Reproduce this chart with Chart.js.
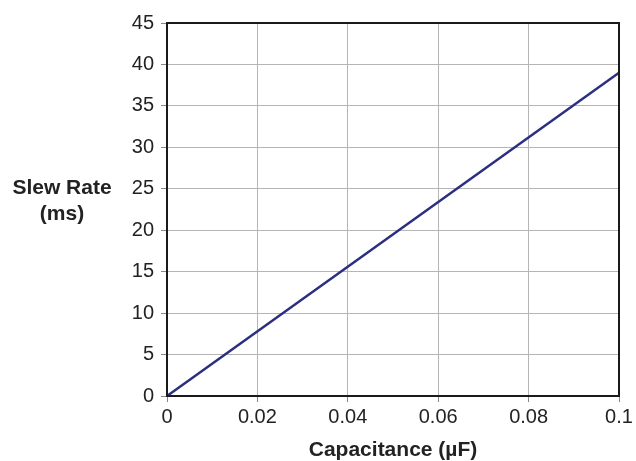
<!DOCTYPE html>
<html>
<head>
<meta charset="utf-8">
<script src="https://cdn.jsdelivr.net/npm/chart.js@4"></script>
<style>
  html, body { margin: 0; padding: 0; background: #fff; }
  #wrap { width: 636px; height: 461px; position: relative; }
</style>
</head>
<body>
<div id="wrap"><canvas id="chart"></canvas></div>
<script>
// values
var capacitance = [0, 0.1];      // µF
var slewRate = [0, 39];          // ms
var xTicks = [0, 0.02, 0.04, 0.06, 0.08, 0.1];
var yTicks = [0, 5, 10, 15, 20, 25, 30, 35, 40, 45];

var points = capacitance.map(function (c, i) { return {x: c, y: slewRate[i]}; });

var frame = {
    id: 'frame',
    afterDraw: function (chart) {
        var a = chart.chartArea, ctx = chart.ctx;
        ctx.save();
        ctx.strokeStyle = '#1a1a1a';
        ctx.lineWidth = 2;
        ctx.strokeRect(a.left, a.top, a.right - a.left, a.bottom - a.top);
        // horizontal y title
        ctx.fillStyle = '#222';
        ctx.font = 'bold 21px "Liberation Sans", Arial, sans-serif';
        ctx.textAlign = 'center';
        ctx.textBaseline = 'middle';
        ctx.fillText('Slew Rate', 62, 188);
        ctx.fillText('(ms)', 62, 214);
        ctx.restore();
    }
};

var font = {family: '"Liberation Sans", Arial, sans-serif', size: 20};

new Chart(document.getElementById('chart'), {
    type: 'scatter',
    data: {
        datasets: [{
            data: points,
            showLine: true,
            borderColor: '#2c2f80',
            borderWidth: 2.5,
            pointRadius: 0,
            tension: 0
        }]
    },
    options: {
        responsive: true,
        maintainAspectRatio: false,
        animation: false,
        layout: {padding: {top: 23, right: 17, bottom: 0, left: 0}},
        plugins: {legend: {display: false}, tooltip: {enabled: false}},
        scales: {
            x: {
                type: 'linear', min: 0, max: 0.1,
                afterBuildTicks: function (s) { s.ticks = xTicks.map(function (v) { return {value: v}; }); },
                afterFit: function (s) { s.height = 65; },
                grid: {color: '#b5b5b5', lineWidth: 1, tickLength: 6, tickColor: '#888'},
                border: {color: '#1a1a1a', width: 2},
                ticks: {color: '#222', font: font, padding: 3, maxRotation: 0,
                    callback: function (v) { return String(v); }},
                title: {display: true, text: 'Capacitance (µF)', color: '#222',
                    font: {family: font.family, size: 21, weight: 'bold', lineHeight: 1}, padding: {top: 0, bottom: 0}}
            },
            y: {
                type: 'linear', min: 0, max: 45,
                afterBuildTicks: function (s) { s.ticks = yTicks.map(function (v) { return {value: v}; }); },
                afterFit: function (s) { s.width = 167; },
                grid: {color: '#b5b5b5', lineWidth: 1, tickLength: 6, tickColor: '#888'},
                border: {color: '#1a1a1a', width: 2},
                ticks: {color: '#222', font: font, padding: 7}
            }
        }
    },
    plugins: [frame]
});
</script>
</body>
</html>
